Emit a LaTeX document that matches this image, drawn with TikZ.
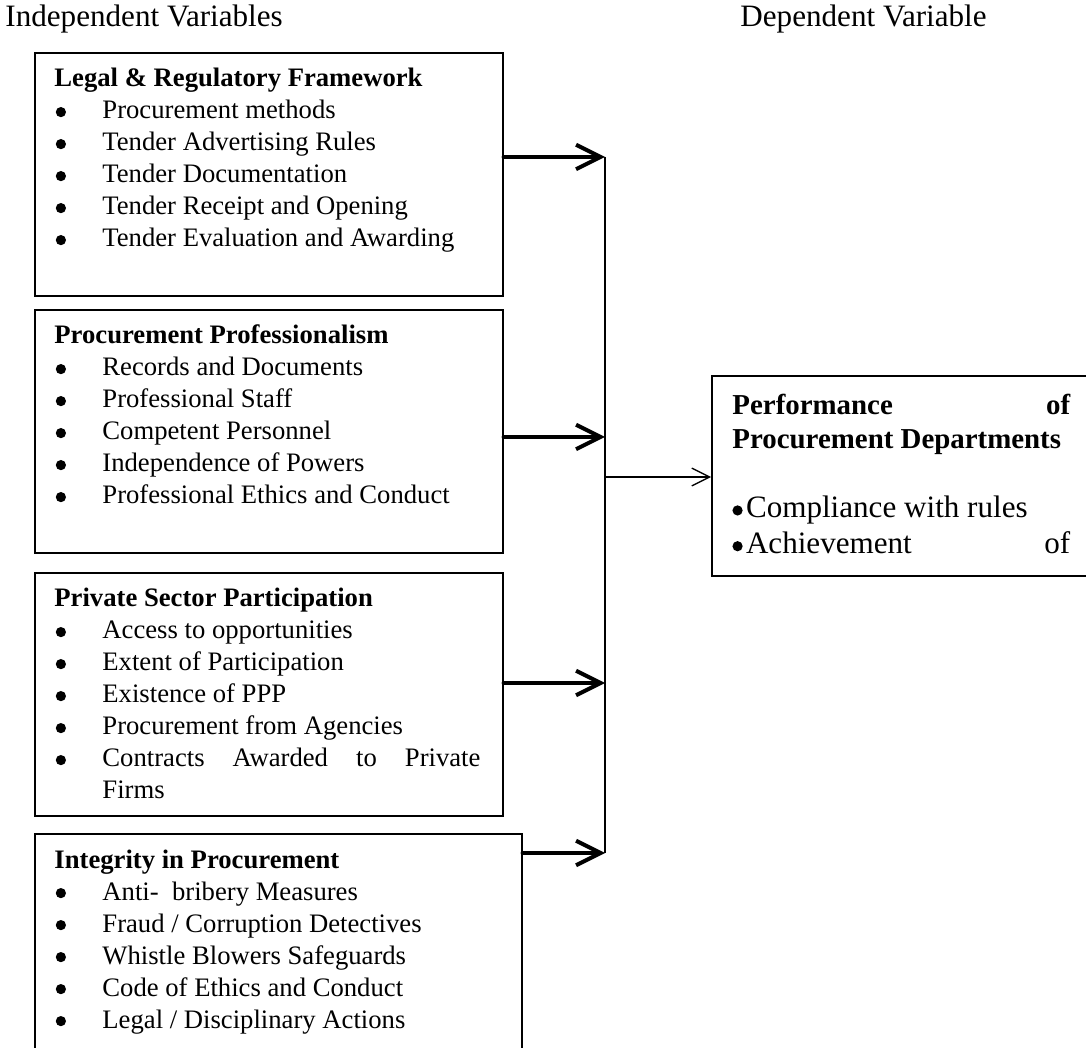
\documentclass[tikz,border=0pt]{standalone}
\usepackage{fontspec}
\setmainfont{Liberation Serif}
\usetikzlibrary{
  arrows.meta,
  positioning,
}
\newcommand{\dotmark}{\raisebox{0.8pt}{\tikz\fill (0,0) circle (2.3pt);}}
\newcommand{\bul}[1]{\par\hangindent=21.6pt\hangafter=1\noindent\makebox[21.6pt][l]{\hspace{0.6pt}\dotmark}#1\par}
\tikzset{
  framebox/.style={
    rectangle,
    draw=black,
    line width=0.7pt,
    anchor=north west,
    inner sep=0pt,
  },
  boxtext/.style={
    anchor=base west,
    inner sep=0pt,
    text width=191.7pt,
    align=justify,
    font=\fontsize{12}{14.4}\selectfont,
  },
  heading/.style={
    anchor=base west,
    inner sep=0pt,
    font=\fontsize{14}{16}\selectfont,
  },
  feed/.style={
    line width=1.8pt,
    line cap=round,
    -{Straight Barb[length=11pt,width=11pt]},
  },
  bus/.style={
    line width=0.6pt,
  },
  result/.style={
    line width=0.6pt,
    -{Straight Barb[length=8pt,width=8pt]},
  },
}
\begin{document}
\begin{tikzpicture}[x=0.45pt,y=-0.45pt]
  \useasboundingbox (0,0) rectangle (1086,1048);

  \node[heading] (indep) at (5,27) {Independent Variables};
  \node[heading] (dep) at (740,27) {Dependent Variable};

  % independent variable boxes
  \node[framebox, minimum width=210.6pt, minimum height=109.35pt] (legal) at (34,52) {};
  \node[boxtext] (legaltxt) at (54,87) {{\bfseries Legal \& Regulatory Framework}
    \bul{Procurement methods}
    \bul{Tender Advertising Rules}
    \bul{Tender Documentation}
    \bul{Tender Receipt and Opening}
    \bul{Tender Evaluation and Awarding}};

  \node[framebox, minimum width=210.6pt, minimum height=109.35pt] (profess) at (34,309) {};
  \node[boxtext] (professtxt) at (54,344) {{\bfseries Procurement Professionalism}
    \bul{Records and Documents}
    \bul{Professional Staff}
    \bul{Competent Personnel}
    \bul{Independence of Powers}
    \bul{Professional Ethics and Conduct}};

  \node[framebox, minimum width=210.6pt, minimum height=109.35pt] (private) at (34,572) {};
  \node[boxtext] (privatetxt) at (54,607) {{\bfseries Private Sector Participation}
    \bul{Access to opportunities}
    \bul{Extent of Participation}
    \bul{Existence of PPP}
    \bul{Procurement from Agencies}
    \bul{Contracts Awarded to Private\linebreak Firms}};

  \node[framebox, minimum width=219.15pt, minimum height=117pt] (integrity) at (34,833) {};
  \node[boxtext] (integritytxt) at (54,868) {{\bfseries Integrity in Procurement}
    \bul{Anti-\ \ bribery Measures}
    \bul{Fraud / Corruption Detectives}
    \bul{Whistle Blowers Safeguards}
    \bul{Code of Ethics and Conduct}
    \bul{Legal / Disciplinary Actions}};

  % dependent variable box
  \node[framebox, minimum width=180pt, minimum height=90pt] (perf) at (711,375) {};
  \node[boxtext, text width=152pt, font=\fontsize{13}{14.95}\selectfont] (perftxt) at (732,415)
    {\hyphenpenalty=10000 {\bfseries Performance of\linebreak Procurement Departments}\par\vspace{15pt}
    {\fontsize{14}{16.1}\selectfont\dotmark\hspace{1.5pt}Compliance with rules\par
    \dotmark\hspace{1.5pt}Achievement\hfill of\par}};

  % connectors
  \coordinate (in1) at (605,157);
  \coordinate (in2) at (605,437);
  \coordinate (in3) at (605,683);
  \coordinate (in4) at (605,853);
  \coordinate (out) at (605,477);

  \draw[feed] (legal.east |- in1) -- (in1);
  \draw[feed] (profess.east |- in2) -- (in2);
  \draw[feed] (private.east |- in3) -- (in3);
  \draw[feed] (integrity.east |- in4) -- (in4);
  \draw[bus] (in1) -- (in4);
  \draw[result] (out) -- (perf.west |- out);

\end{tikzpicture}
\end{document}
